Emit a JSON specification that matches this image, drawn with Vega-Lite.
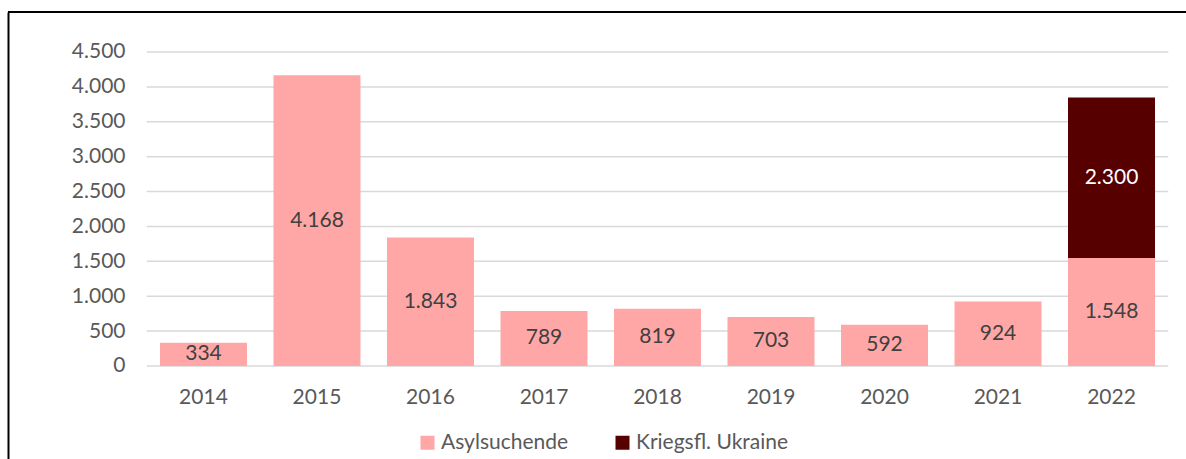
{
  "$schema": "https://vega.github.io/schema/vega-lite/v6.json",
  "width": 1178,
  "height": 447,
  "autosize": {"type": "none"},
  "padding": {"left": 8, "top": 12, "right": 0, "bottom": 0},
  "config": {
    "view": {"stroke": null},
    "font": "Lato",
    "locale": {"number": {"decimal": ",", "thousands": ".", "grouping": [3], "currency": ["", " €"]}}
  },
  "datasets": {
    "bars": [
      {"year": "2014", "series": "Asylsuchende", "value": 334},
      {"year": "2015", "series": "Asylsuchende", "value": 4168},
      {"year": "2016", "series": "Asylsuchende", "value": 1843},
      {"year": "2017", "series": "Asylsuchende", "value": 789},
      {"year": "2018", "series": "Asylsuchende", "value": 819},
      {"year": "2019", "series": "Asylsuchende", "value": 703},
      {"year": "2020", "series": "Asylsuchende", "value": 592},
      {"year": "2021", "series": "Asylsuchende", "value": 924},
      {"year": "2022", "series": "Asylsuchende", "value": 1548},
      {"year": "2022", "series": "Kriegsfl. Ukraine", "value": 2300}
    ],
    "grid": [
      {"g": 0}, {"g": 500}, {"g": 1000}, {"g": 1500}, {"g": 2000},
      {"g": 2500}, {"g": 3000}, {"g": 3500}, {"g": 4000}, {"g": 4500}
    ],
    "frame": [{"top": 5073.2}]
  },
  "resolve": {"scale": {"x": "independent"}, "axis": {"x": "independent"}},
  "layer": [
    {
      "data": {"name": "grid"},
      "mark": {"type": "rule", "stroke": "#d9d9d9", "strokeWidth": 1.5},
      "encoding": {
        "y": {
          "field": "g", "type": "quantitative",
          "scale": {"domain": [-1332.8, 5073.2], "nice": false, "zero": false},
          "axis": {"orient": "left", "values": [0, 500, 1000, 1500, 2000, 2500, 3000, 3500, 4000, 4500], "format": ",d", "grid": false, "ticks": false, "tickSize": 0, "domain": true, "domainColor": "#000000", "domainWidth": 2, "labelPadding": -117, "labelAlign": "right", "labelFontSize": 21, "labelColor": "#595959", "labelFont": "Lato", "title": null}
        },
        "x": {"datum": 0, "type": "quantitative", "scale": {"domain": [-0.13583, 1.01738], "nice": false, "zero": false}, "axis": null},
        "x2": {"datum": 1}
      }
    },
    {
      "data": {"name": "bars"},
      "layer": [
        {
          "mark": {"type": "bar"},
          "encoding": {
            "x": {
              "field": "year", "type": "nominal",
              "scale": {"paddingInner": 0.2335, "paddingOuter": 0.806, "align": 0.8306},
              "axis": {"orient": "bottom", "offset": -93, "domain": false, "ticks": false, "tickSize": 0, "labelPadding": 20, "labelAngle": 0, "labelFontSize": 21, "labelColor": "#595959", "labelFont": "Lato", "title": null}
            },
            "y": {
              "field": "value", "type": "quantitative", "stack": "zero",
              "scale": {"domain": [-1332.8, 5073.2], "nice": false, "zero": false}
            },
            "order": {"field": "series", "sort": "ascending"},
            "color": {
              "field": "series", "type": "nominal",
              "scale": {"domain": ["Asylsuchende", "Kriegsfl. Ukraine"], "range": ["#ffa7a7", "#560000"]},
              "legend": {"orient": "none", "direction": "horizontal", "legendX": 409, "legendY": 420, "title": null, "symbolType": "square", "symbolSize": 196, "symbolStrokeWidth": 0, "labelFontSize": 21, "labelColor": "#595959", "labelFont": "Lato", "labelOffset": 3, "columnPadding": 43}
            }
          }
        },
        {
          "mark": {"type": "text", "fontSize": 21, "font": "Lato", "baseline": "middle", "align": "center"},
          "encoding": {
            "x": {"field": "year", "type": "nominal"},
            "y": {"field": "value", "type": "quantitative", "stack": "zero", "bandPosition": 0.5, "scale": {"domain": [-1332.8, 5073.2], "nice": false, "zero": false}},
            "detail": {"field": "series"},
            "order": {"field": "series", "sort": "ascending"},
            "text": {"field": "value", "type": "quantitative", "format": ",d"},
            "color": {"condition": {"test": "datum.series === 'Kriegsfl. Ukraine'", "value": "#ffffff"}, "value": "#404040"}
          }
        }
      ]
    },
    {
      "data": {"name": "frame"},
      "mark": {"type": "rule", "stroke": "#000000", "strokeWidth": 2},
      "encoding": {
        "y": {"field": "top", "type": "quantitative", "scale": {"domain": [-1332.8, 5073.2], "nice": false, "zero": false}}
      }
    }
  ]
}
